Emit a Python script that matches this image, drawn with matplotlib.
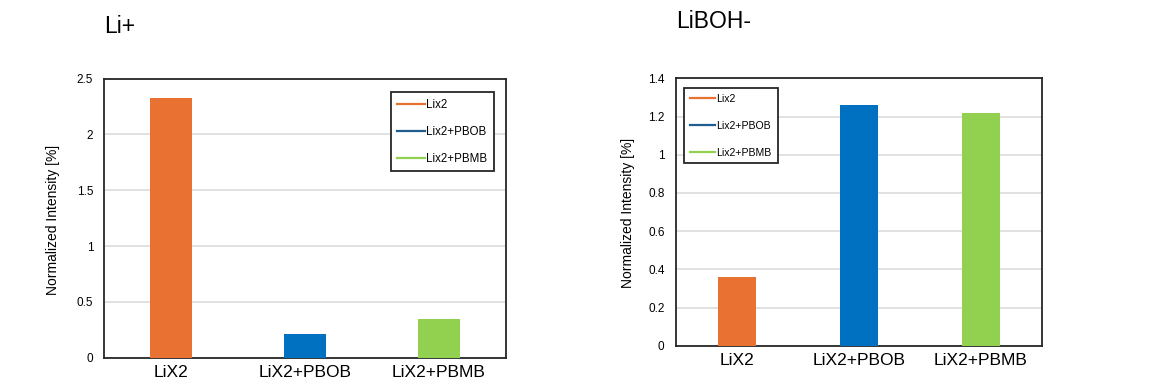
import matplotlib.pyplot as plt
from matplotlib.lines import Line2D

plt.rcParams['font.family'] = ['Liberation Sans', 'DejaVu Sans']

categories = ['LiX2', 'LiX2+PBOB', 'LiX2+PBMB']
legend_labels = ['Lix2', 'Lix2+PBOB', 'Lix2+PBMB']
li_plus = [2.33, 0.215, 0.345]
liboh_minus = [0.36, 1.262, 1.218]

bar_colors = ['#E97132', '#0070C0', '#92D050']
line_colors = ['#E97132', '#1F5C8F', '#92D050']

fig = plt.figure(figsize=(11.68, 3.89), dpi=100)


def draw_panel(rect, values, ymax, ystep, title, title_xy, leg_loc, leg_anchor,
               label_x, leg_size, leg_spacing):
    ax = fig.add_axes(rect)
    x = range(len(categories))
    ax.bar(x, values, width=0.31, color=bar_colors, zorder=3)
    ax.set_xlim(-0.5, len(categories) - 0.5)
    ax.set_ylim(0, ymax)
    ticks = [round(i * ystep, 2) for i in range(int(round(ymax / ystep)) + 1)]
    ax.set_yticks(ticks)
    ax.set_yticklabels(['%g' % t for t in ticks])
    ax.set_xticks(list(x))
    ax.set_xticklabels(categories, fontsize=12.5)
    ax.tick_params(axis='y', length=0, pad=8, labelsize=8.5)
    ax.tick_params(axis='x', length=0, pad=5)
    ax.grid(axis='y', color='#D9D9D9', linewidth=1.1, zorder=0)
    for s in ax.spines.values():
        s.set_color('#262626')
        s.set_linewidth(1.3)
    ax.set_ylabel('Normalized Intensity [%]', fontsize=10)
    ax.yaxis.set_label_coords(label_x, 0.495)
    handles = [Line2D([0], [0], color=c, lw=1.6) for c in line_colors]
    leg = ax.legend(handles, legend_labels, loc=leg_loc,
                    bbox_to_anchor=leg_anchor, fontsize=leg_size,
                    fancybox=False, framealpha=1, edgecolor='#262626',
                    handlelength=2.4, handletextpad=0.15,
                    labelspacing=leg_spacing, borderpad=0.55, borderaxespad=0)
    leg.get_frame().set_linewidth(1.3)
    leg.set_zorder(5)
    fig.text(title_xy[0], title_xy[1], title, fontsize=16.5, va='baseline')
    return ax


draw_panel([0.0893, 0.0805, 0.3439, 0.7172], li_plus, 2.5, 0.5, 'Li+',
           (0.089, 0.916), 'upper right', (0.970, 0.951), -0.111, 8.3, 1.3)
draw_panel([0.5785, 0.1113, 0.3136, 0.6874], liboh_minus, 1.4, 0.2, 'LiBOH-',
           (0.579, 0.927), 'upper left', (0.022, 0.964), -0.112, 7.6, 1.6)

fig.savefig('out.png', dpi=100)
